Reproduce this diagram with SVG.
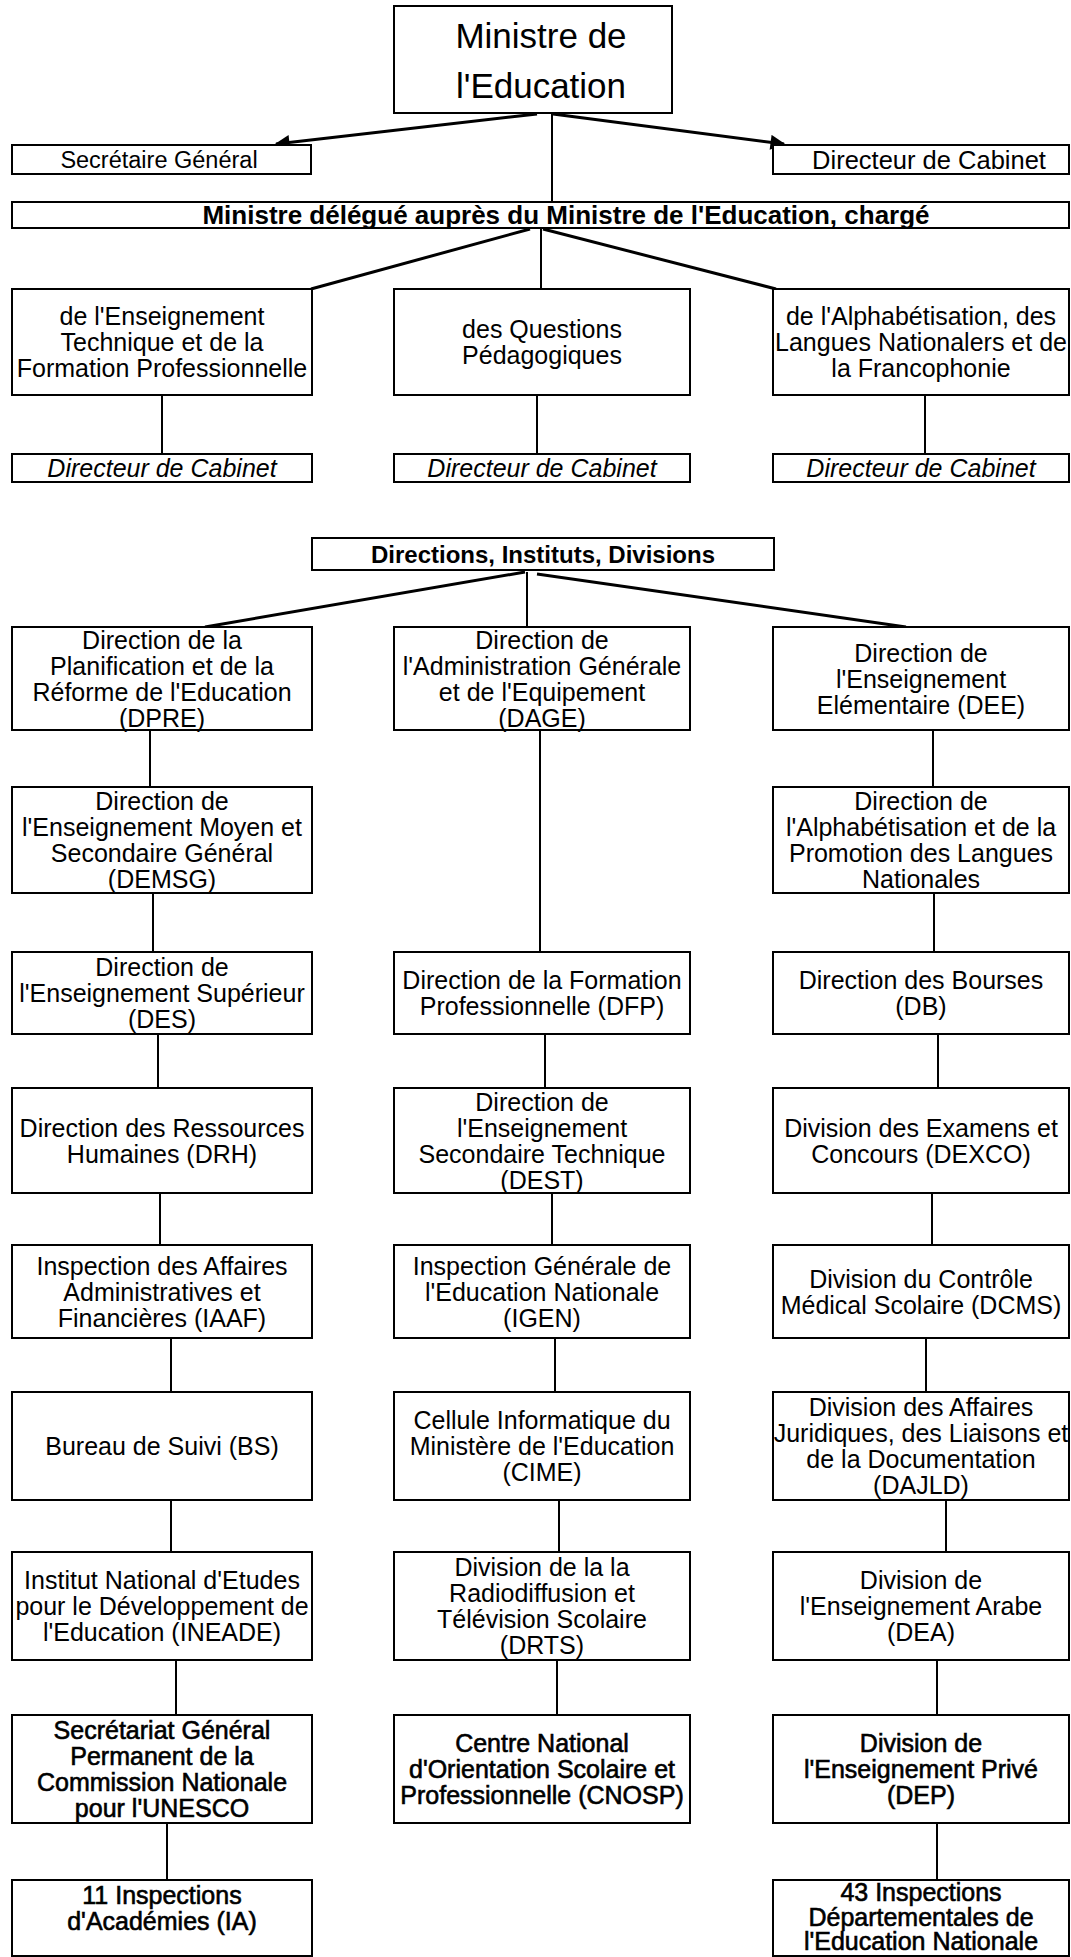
<svg xmlns="http://www.w3.org/2000/svg" width="1071" height="1957" viewBox="0 0 1071 1957">
<style>
.box{fill:#fff;stroke:#000;stroke-width:2}
.t{font-family:"Liberation Sans",Arial,Helvetica,sans-serif;font-size:25px;text-anchor:middle;fill:#000}
.b{font-weight:bold}
.i{font-style:italic}
.big{font-size:35px}
.sg{font-size:23.5px}
.dc{font-size:25.5px}
.dl{font-size:26px}
.dir{font-size:24px}
.hv{stroke:#000;stroke-width:0.6}
.c{stroke:#000;stroke-width:2;fill:none}
.ck{stroke:#000;stroke-width:3;fill:none}
</style>
<defs>
<marker id="arr" viewBox="0 0 10 10" refX="9" refY="5" markerWidth="20" markerHeight="15" markerUnits="userSpaceOnUse" orient="auto">
<path d="M0,0 L10,5 L0,10 z" fill="#000"/>
</marker>
</defs>
<rect width="1071" height="1957" fill="#fff"/>

<g id="connectors">
<line class="ck" x1="537" y1="114" x2="276" y2="144" marker-end="url(#arr)"/>
<line class="ck" x1="553" y1="114" x2="784" y2="144" marker-end="url(#arr)"/>
<line class="c" x1="552" y1="114" x2="552" y2="202"/>
<line class="ck" x1="530" y1="229" x2="311" y2="289"/>
<line class="c" x1="541" y1="229" x2="541" y2="289"/>
<line class="ck" x1="543" y1="229" x2="776" y2="289"/>
<line class="c" x1="162" y1="395" x2="162" y2="454"/>
<line class="c" x1="537" y1="395" x2="537" y2="454"/>
<line class="c" x1="925" y1="395" x2="925" y2="454"/>
<line class="ck" x1="525" y1="572" x2="205" y2="627"/>
<line class="c" x1="527" y1="572" x2="527" y2="627"/>
<line class="ck" x1="537" y1="574" x2="906" y2="627"/>
<line class="c" x1="150" y1="730" x2="150" y2="787"/>
<line class="c" x1="153" y1="893" x2="153" y2="952"/>
<line class="c" x1="158" y1="1034" x2="158" y2="1088"/>
<line class="c" x1="160" y1="1193" x2="160" y2="1245"/>
<line class="c" x1="171" y1="1338" x2="171" y2="1392"/>
<line class="c" x1="171" y1="1500" x2="171" y2="1552"/>
<line class="c" x1="176" y1="1660" x2="176" y2="1715"/>
<line class="c" x1="167" y1="1823" x2="167" y2="1880"/>
<line class="c" x1="540" y1="730" x2="540" y2="952"/>
<line class="c" x1="545" y1="1034" x2="545" y2="1088"/>
<line class="c" x1="552" y1="1193" x2="552" y2="1245"/>
<line class="c" x1="555" y1="1338" x2="555" y2="1392"/>
<line class="c" x1="559" y1="1500" x2="559" y2="1552"/>
<line class="c" x1="557" y1="1660" x2="557" y2="1715"/>
<line class="c" x1="933" y1="730" x2="933" y2="787"/>
<line class="c" x1="934" y1="893" x2="934" y2="952"/>
<line class="c" x1="938" y1="1034" x2="938" y2="1088"/>
<line class="c" x1="932" y1="1193" x2="932" y2="1245"/>
<line class="c" x1="926" y1="1338" x2="926" y2="1392"/>
<line class="c" x1="946" y1="1500" x2="946" y2="1552"/>
<line class="c" x1="937" y1="1660" x2="937" y2="1715"/>
<line class="c" x1="937" y1="1823" x2="937" y2="1880"/>
</g>

<g id="ministre">
<rect class="box" x="394" y="6" width="278" height="107"/>
<text class="t big" x="541" y="47.5">Ministre de<tspan x="541" dy="50">l'Education</tspan></text>
</g>
<g id="secretaire-general">
<rect class="box" x="12" y="145" width="299" height="29"/>
<text class="t sg" x="159" y="168">Secrétaire Général</text>
</g>
<g id="directeur-cabinet">
<rect class="box" x="773" y="145" width="296" height="29"/>
<text class="t dc" x="929" y="169">Directeur de Cabinet</text>
</g>
<g id="ministre-delegue">
<rect class="box" x="12" y="202" width="1057" height="26"/>
<text class="t b dl" x="566" y="224">Ministre délégué auprès du Ministre de l'Education, chargé</text>
</g>

<g id="enseignement-technique">
<rect class="box" x="12" y="289" width="300" height="106"/>
<text class="t" x="162" y="325">de l'Enseignement<tspan x="162" dy="26">Technique et de la</tspan><tspan x="162" dy="26">Formation Professionnelle</tspan></text>
</g>
<g id="questions-pedagogiques">
<rect class="box" x="394" y="289" width="296" height="106"/>
<text class="t" x="542" y="338">des Questions<tspan x="542" dy="26">Pédagogiques</tspan></text>
</g>
<g id="alphabetisation">
<rect class="box" x="773" y="289" width="296" height="106"/>
<text class="t" x="921" y="325">de l'Alphabétisation, des<tspan x="921" dy="26">Langues Nationalers et de</tspan><tspan x="921" dy="26">la Francophonie</tspan></text>
</g>

<g id="dc-left">
<rect class="box" x="12" y="454" width="300" height="28"/>
<text class="t i" x="162" y="477">Directeur de Cabinet</text>
</g>
<g id="dc-middle">
<rect class="box" x="394" y="454" width="296" height="28"/>
<text class="t i" x="542" y="477">Directeur de Cabinet</text>
</g>
<g id="dc-right">
<rect class="box" x="773" y="454" width="296" height="28"/>
<text class="t i" x="921" y="477">Directeur de Cabinet</text>
</g>

<g id="directions">
<rect class="box" x="312" y="538" width="462" height="32"/>
<text class="t b dir" x="543" y="562.5">Directions, Instituts, Divisions</text>
</g>

<g id="dpre">
<rect class="box" x="12" y="627" width="300" height="103"/>
<text class="t" x="162" y="648.5">Direction de la<tspan x="162" dy="26">Planification et de la</tspan><tspan x="162" dy="26">Réforme de l'Education</tspan><tspan x="162" dy="26">(DPRE)</tspan></text>
</g>
<g id="dage">
<rect class="box" x="394" y="627" width="296" height="103"/>
<text class="t" x="542" y="648.5">Direction de<tspan x="542" dy="26">l'Administration Générale</tspan><tspan x="542" dy="26">et de l'Equipement</tspan><tspan x="542" dy="26">(DAGE)</tspan></text>
</g>
<g id="dee">
<rect class="box" x="773" y="627" width="296" height="103"/>
<text class="t" x="921" y="661.5">Direction de<tspan x="921" dy="26">l'Enseignement</tspan><tspan x="921" dy="26">Elémentaire (DEE)</tspan></text>
</g>

<g id="demsg">
<rect class="box" x="12" y="787" width="300" height="106"/>
<text class="t" x="162" y="810">Direction de<tspan x="162" dy="26">l'Enseignement Moyen et</tspan><tspan x="162" dy="26">Secondaire Général</tspan><tspan x="162" dy="26">(DEMSG)</tspan></text>
</g>
<g id="alpha-langues">
<rect class="box" x="773" y="787" width="296" height="106"/>
<text class="t" x="921" y="810">Direction de<tspan x="921" dy="26">l'Alphabétisation et de la</tspan><tspan x="921" dy="26">Promotion des Langues</tspan><tspan x="921" dy="26">Nationales</tspan></text>
</g>

<g id="des">
<rect class="box" x="12" y="952" width="300" height="82"/>
<text class="t" x="162" y="976">Direction de<tspan x="162" dy="26">l'Enseignement Supérieur</tspan><tspan x="162" dy="26">(DES)</tspan></text>
</g>
<g id="dfp">
<rect class="box" x="394" y="952" width="296" height="82"/>
<text class="t" x="542" y="989">Direction de la Formation<tspan x="542" dy="26">Professionnelle (DFP)</tspan></text>
</g>
<g id="db">
<rect class="box" x="773" y="952" width="296" height="82"/>
<text class="t" x="921" y="989">Direction des Bourses<tspan x="921" dy="26">(DB)</tspan></text>
</g>

<g id="drh">
<rect class="box" x="12" y="1088" width="300" height="105"/>
<text class="t" x="162" y="1136.5">Direction des Ressources<tspan x="162" dy="26">Humaines (DRH)</tspan></text>
</g>
<g id="dest">
<rect class="box" x="394" y="1088" width="296" height="105"/>
<text class="t" x="542" y="1110.5">Direction de<tspan x="542" dy="26">l'Enseignement</tspan><tspan x="542" dy="26">Secondaire Technique</tspan><tspan x="542" dy="26">(DEST)</tspan></text>
</g>
<g id="dexco">
<rect class="box" x="773" y="1088" width="296" height="105"/>
<text class="t" x="921" y="1136.5">Division des Examens et<tspan x="921" dy="26">Concours (DEXCO)</tspan></text>
</g>

<g id="iaaf">
<rect class="box" x="12" y="1245" width="300" height="93"/>
<text class="t" x="162" y="1274.5">Inspection des Affaires<tspan x="162" dy="26">Administratives et</tspan><tspan x="162" dy="26">Financières (IAAF)</tspan></text>
</g>
<g id="igen">
<rect class="box" x="394" y="1245" width="296" height="93"/>
<text class="t" x="542" y="1274.5">Inspection Générale de<tspan x="542" dy="26">l'Education Nationale</tspan><tspan x="542" dy="26">(IGEN)</tspan></text>
</g>
<g id="dcms">
<rect class="box" x="773" y="1245" width="296" height="93"/>
<text class="t" x="921" y="1287.5">Division du Contrôle<tspan x="921" dy="26">Médical Scolaire (DCMS)</tspan></text>
</g>

<g id="bs">
<rect class="box" x="12" y="1392" width="300" height="108"/>
<text class="t" x="162" y="1455">Bureau de Suivi (BS)</text>
</g>
<g id="cime">
<rect class="box" x="394" y="1392" width="296" height="108"/>
<text class="t" x="542" y="1429">Cellule Informatique du<tspan x="542" dy="26">Ministère de l'Education</tspan><tspan x="542" dy="26">(CIME)</tspan></text>
</g>
<g id="dajld">
<rect class="box" x="773" y="1392" width="296" height="108"/>
<text class="t" x="921" y="1416">Division des Affaires<tspan x="921" dy="26">Juridiques, des Liaisons et</tspan><tspan x="921" dy="26">de la Documentation</tspan><tspan x="921" dy="26">(DAJLD)</tspan></text>
</g>

<g id="ineade">
<rect class="box" x="12" y="1552" width="300" height="108"/>
<text class="t" x="162" y="1589">Institut National d'Etudes<tspan x="162" dy="26">pour le Développement de</tspan><tspan x="162" dy="26">l'Education (INEADE)</tspan></text>
</g>
<g id="drts">
<rect class="box" x="394" y="1552" width="296" height="108"/>
<text class="t" x="542" y="1576">Division de la la<tspan x="542" dy="26">Radiodiffusion et</tspan><tspan x="542" dy="26">Télévision Scolaire</tspan><tspan x="542" dy="26">(DRTS)</tspan></text>
</g>
<g id="dea">
<rect class="box" x="773" y="1552" width="296" height="108"/>
<text class="t" x="921" y="1589">Division de<tspan x="921" dy="26">l'Enseignement Arabe</tspan><tspan x="921" dy="26">(DEA)</tspan></text>
</g>

<g id="unesco">
<rect class="box" x="12" y="1715" width="300" height="108"/>
<text class="t hv" x="162" y="1739">Secrétariat Général<tspan x="162" dy="26">Permanent de la</tspan><tspan x="162" dy="26">Commission Nationale</tspan><tspan x="162" dy="26">pour l'UNESCO</tspan></text>
</g>
<g id="cnosp">
<rect class="box" x="394" y="1715" width="296" height="108"/>
<text class="t hv" x="542" y="1752">Centre National<tspan x="542" dy="26">d'Orientation Scolaire et</tspan><tspan x="542" dy="26">Professionnelle (CNOSP)</tspan></text>
</g>
<g id="dep">
<rect class="box" x="773" y="1715" width="296" height="108"/>
<text class="t hv" x="921" y="1752">Division de<tspan x="921" dy="26">l'Enseignement Privé</tspan><tspan x="921" dy="26">(DEP)</tspan></text>
</g>

<g id="ia">
<rect class="box" x="12" y="1880" width="300" height="76"/>
<text class="t hv" x="162" y="1904">11 Inspections<tspan x="162" dy="26">d'Académies (IA)</tspan></text>
</g>
<g id="iden">
<rect class="box" x="773" y="1880" width="296" height="76"/>
<text class="t hv" x="921" y="1901">43 Inspections<tspan x="921" dy="24.5">Départementales de</tspan><tspan x="921" dy="24.5">l'Education Nationale</tspan></text>
</g>
</svg>
